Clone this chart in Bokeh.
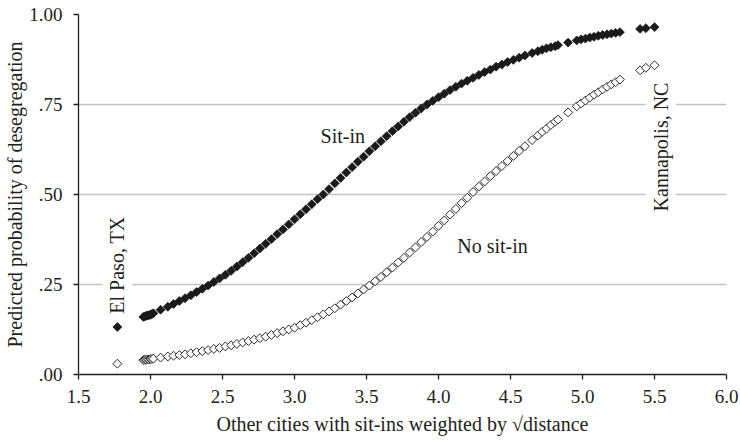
import numpy as np
from bokeh.plotting import figure
from bokeh.models import Range1d, FixedTicker, ColumnDataSource
from bokeh.core.properties import value
from bokeh.embed import file_html
from bokeh.resources import INLINE

# ---- data ----
x_vals = [1.77, 1.95, 1.96, 1.97, 1.98, 1.99, 2.00, 2.01, 2.02, 2.07,
          2.12, 2.16, 2.20, 2.24, 2.28, 2.32, 2.36, 2.40, 2.44, 2.48,
          2.52, 2.56, 2.60, 2.64, 2.68, 2.72, 2.76, 2.80, 2.84, 2.88,
          2.92, 2.96, 3.00, 3.04, 3.08, 3.12, 3.16, 3.20, 3.24, 3.28,
          3.32, 3.36, 3.40, 3.44, 3.48, 3.52, 3.56, 3.60, 3.64, 3.68,
          3.72, 3.76, 3.80, 3.84, 3.88, 3.92, 3.96, 4.00, 4.04, 4.08,
          4.12, 4.16, 4.20, 4.24, 4.28, 4.32, 4.36, 4.40, 4.44, 4.48,
          4.52, 4.56, 4.60, 4.65, 4.69, 4.72, 4.75, 4.78, 4.81, 4.83,
          4.90, 4.96, 4.99, 5.02, 5.05, 5.08, 5.11, 5.14, 5.17, 5.20,
          5.23, 5.26, 5.40, 5.44, 5.50]

sit_in = [.132, .160, .161, .163, .164, .165, .166, .168, .170, .180,
          .188, .196, .204, .212, .220, .229, .238, .247, .257, .267,
          .277, .288, .300, .312, .324, .337, .350, .363, .376, .390,
          .403, .417, .431, .445, .459, .473, .487, .500, .515, .531,
          .546, .561, .576, .591, .605, .620, .634, .648, .662, .676,
          .689, .702, .715, .727, .739, .750, .760, .770, .780, .790,
          .799, .808, .816, .824, .832, .840, .847, .855, .861, .868,
          .874, .880, .886, .893, .898, .902, .906, .909, .912, .915,
          .922, .928, .931, .933, .936, .938, .941, .943, .945, .947,
          .949, .951, .960, .962, .965]

no_sit_in = [.030, .040, .041, .041, .042, .042, .043, .043, .044, .047,
             .050, .052, .054, .056, .059, .062, .065, .068, .071, .074,
             .078, .081, .085, .089, .093, .097, .101, .105, .110, .115,
             .120, .125, .130, .137, .144, .151, .159, .167, .175, .184,
             .194, .204, .214, .225, .236, .247, .259, .271, .284, .297,
             .311, .324, .339, .353, .368, .382, .397, .413, .428, .444,
             .460, .476, .491, .507, .522, .536, .551, .565, .579, .593,
             .607, .621, .634, .651, .664, .674, .683, .693, .702, .708,
             .728, .745, .753, .761, .769, .777, .784, .792, .799, .806,
             .812, .819, .845, .852, .859]

x_ticks = [1.5, 2.0, 2.5, 3.0, 3.5, 4.0, 4.5, 5.0, 5.5, 6.0]
x_tick_labels = ["1.5", "2.0", "2.5", "3.0", "3.5", "4.0", "4.5", "5.0", "5.5", "6.0"]
y_ticks = [0.0, 0.25, 0.5, 0.75, 1.0]
y_tick_labels = [".00", ".25", ".50", ".75", "1.00"]

series_labels = ["Sit-in", "No sit-in"]
series_label_x = [3.335, 4.375]
series_label_y = [0.662, 0.358]

city_names = ["El Paso, TX", "Kannapolis, NC"]
city_x = [1.77, 5.544]
city_y = [0.304, 0.632]

FONT = "Liberation Serif"
INK = "#231f20"

p = figure(width=740, height=441,
           x_range=Range1d(1.5, 6.0), y_range=Range1d(0, 1.0),
           output_backend="svg", toolbar_location=None,
           min_border_left=78, min_border_right=14,
           min_border_top=14, min_border_bottom=67)

p.background_fill_color = "white"
p.border_fill_color = "white"
p.outline_line_color = None

p.xgrid.visible = False
p.ygrid.grid_line_color = "#c4c4c4"
p.ygrid.grid_line_width = 1.3

p.xaxis.ticker = FixedTicker(ticks=x_ticks)
p.yaxis.ticker = FixedTicker(ticks=y_ticks)
p.xaxis.major_label_overrides = dict(zip(x_ticks, x_tick_labels))
p.yaxis.major_label_overrides = dict(zip(y_ticks, y_tick_labels))

for ax in (p.xaxis, p.yaxis):
    ax.axis_line_color = INK
    ax.axis_line_width = 1.3
    ax.major_tick_line_color = INK
    ax.major_tick_line_width = 1.3
    ax.major_tick_in = 0
    ax.major_tick_out = 5
    ax.minor_tick_line_color = None
    ax.major_label_text_font = FONT
    ax.major_label_text_font_size = "19px"
    ax.major_label_text_color = INK
    ax.axis_label_text_font = FONT
    ax.axis_label_text_font_size = "20px"
    ax.axis_label_text_font_style = "normal"
    ax.axis_label_text_color = INK

p.xaxis.major_label_standoff = 10
p.yaxis.major_label_standoff = 11
p.xaxis.axis_label = "Other cities with sit-ins weighted by \u221adistance"
p.yaxis.axis_label = "Predicted probability of desegregation"
p.xaxis.axis_label_standoff = 7
p.yaxis.axis_label_standoff = 0

src = ColumnDataSource(dict(x=x_vals, s=sit_in, n=no_sit_in))

p.scatter(x="x", y="n", source=src, marker="square", angle=np.pi / 4, size=6.3,
          fill_color="white", line_color="#2a2a2a", line_width=1.0)
p.scatter(x="x", y="s", source=src, marker="square", angle=np.pi / 4, size=6.3,
          fill_color="#1a1a1a", line_color="#1a1a1a", line_width=0.8)

lab_src = ColumnDataSource(dict(x=series_label_x, y=series_label_y, text=series_labels))
p.text(x="x", y="y", text="text", source=lab_src,
       text_font=value(FONT), text_font_size="20px", text_color=INK,
       text_align="center", text_baseline="middle")

city_src = ColumnDataSource(dict(x=city_x, y=city_y, text=city_names))
p.text(x="x", y="y", text="text", source=city_src, angle=np.pi / 2,
       text_font=value(FONT), text_font_size="20px", text_color=INK,
       text_align="center", text_baseline="middle",
       background_fill_color="white", padding=4)

open("out.html", "w").write(file_html(p, INLINE))
